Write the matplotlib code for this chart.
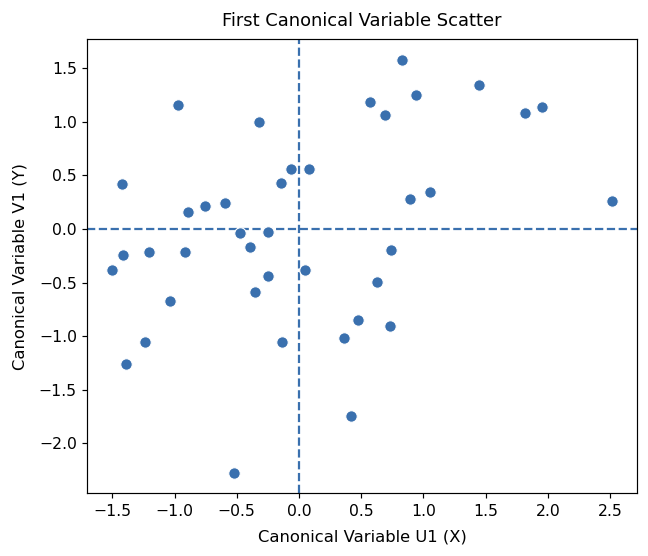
import matplotlib
matplotlib.use("Agg")
import matplotlib.pyplot as plt

# canonical variable scores (first pair)
u1 = [-0.972, -0.320, -1.426, -0.144, -0.067, 0.083, -0.895, -0.753, -0.593, -0.473,
      -0.246, -0.393, 0.828, 1.450, 0.569, 0.938, 0.691, 1.819, 1.955, 0.892,
      1.055, 2.513, -1.501, -1.416, -1.207, -0.913, -1.039, -1.240, -1.394, -0.246,
      -0.350, -0.134, -0.523, 0.048, 0.743, 0.625, 0.473, 0.358, 0.732, 0.414]
v1 = [1.160, 0.995, 0.421, 0.431, 0.555, 0.555, 0.158, 0.214, 0.245, -0.040,
      -0.028, -0.170, 1.579, 1.346, 1.181, 1.253, 1.060, 1.082, 1.138, 0.282,
      0.344, 0.258, -0.381, -0.245, -0.214, -0.214, -0.676, -1.051, -1.259, -0.437,
      -0.586, -1.051, -2.273, -0.381, -0.195, -0.493, -0.853, -1.017, -0.909, -1.746]

color = "#3a70ae"
dpi = 107

fig = plt.figure(figsize=(648 / dpi, 556 / dpi), dpi=dpi)
ax = fig.add_axes([0.1347, 0.1127, 0.8478, 0.8172])

ax.scatter(u1, v1, s=60, color=color, edgecolor="white", linewidth=0.75, zorder=3)
ax.axhline(0, color=color, linestyle="--", linewidth=1.5)
ax.axvline(0, color=color, linestyle="--", linewidth=1.5)

ax.tick_params(labelsize=10.5)
ax.set_title("First Canonical Variable Scatter", fontsize=12, pad=8.5)
ax.set_xlabel("Canonical Variable U1 (X)", fontsize=11, labelpad=7)
ax.set_ylabel("Canonical Variable V1 (Y)", fontsize=11, labelpad=7.5)

fig.savefig("out.png", dpi=dpi)
